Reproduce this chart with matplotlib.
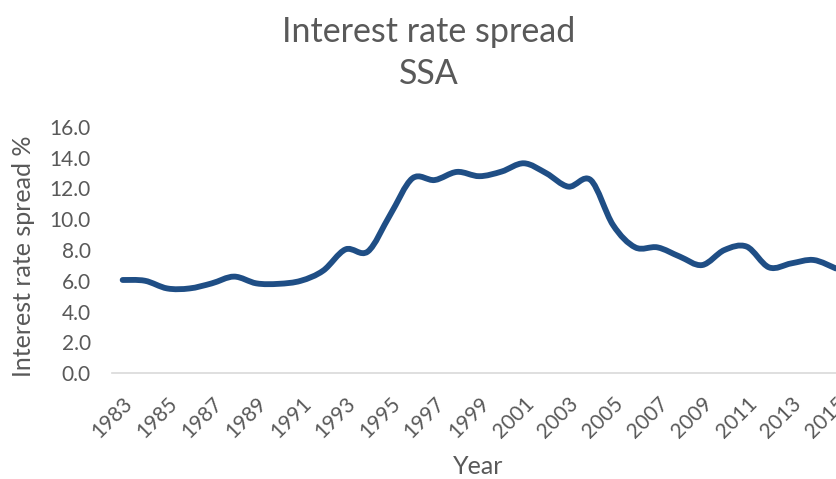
import numpy as np
import matplotlib.pyplot as plt
from matplotlib.path import Path
from matplotlib.patches import PathPatch
from matplotlib.transforms import ScaledTranslation

plt.rcParams['font.family'] = ['Lato', 'DejaVu Sans']

# interest rate spread, Sub-Saharan Africa (%)
years = list(range(1983, 2016))
spread = [6.05, 6.0, 5.5, 5.5, 5.83, 6.27, 5.83, 5.8, 6.0, 6.66,
          8.04, 7.9, 10.28, 12.66, 12.55, 13.08, 12.8, 13.1, 13.64, 13.0,
          12.12, 12.55, 9.63, 8.17, 8.17, 7.57, 7.02, 8.0, 8.22, 6.87,
          7.13, 7.35, 6.8]
year_labels = [str(y) for y in years[::2]]

text_col = '#595959'
line_col = '#1f4e85'


# smoothed line the way the spreadsheet draws it: cubic beziers through every point
def smooth_path(x, y):
    x = np.asarray(x, float)
    y = np.asarray(y, float)
    n = len(x)
    verts = [(x[0], y[0])]
    codes = [Path.MOVETO]
    for i in range(n - 1):
        i0 = max(i - 1, 0)
        i3 = min(i + 2, n - 1)
        c1 = (x[i] + (x[i + 1] - x[i0]) / 6, y[i] + (y[i + 1] - y[i0]) / 6)
        c2 = (x[i + 1] - (x[i3] - x[i]) / 6, y[i + 1] - (y[i3] - y[i]) / 6)
        verts += [c1, c2, (x[i + 1], y[i + 1])]
        codes += [Path.CURVE4] * 3
    return Path(verts, codes)


fig = plt.figure(figsize=(8.37, 4.79), dpi=100)
W, H = 837, 479
x0, x1 = 111.5, 847
y0, y1 = 373, 127
ax = fig.add_axes([x0 / W, (H - y0) / H, (x1 - x0) / W, (y0 - y1) / H])

patch = PathPatch(smooth_path(years, spread), facecolor='none', edgecolor=line_col,
                  lw=4.2, capstyle='round', joinstyle='round')
ax.add_patch(patch)

ax.set_xlim(years[0] - 0.5, years[-1] + 0.5)
ax.set_ylim(0, 16)
ax.set_yticks(np.arange(0, 16.1, 2))
ax.set_yticklabels(['%.1f' % v for v in np.arange(0, 16.1, 2)])
ax.set_xticks(years[::2])
ax.set_xticklabels(year_labels, rotation=45, ha='right', va='top',
                   rotation_mode='anchor')
shift = ScaledTranslation(4 / 72, 0, fig.dpi_scale_trans)
for lbl in ax.get_xticklabels():
    lbl.set_transform(lbl.get_transform() + shift)

for s in ['top', 'right', 'left']:
    ax.spines[s].set_visible(False)
ax.spines['bottom'].set_color('#d9d9d9')
ax.spines['bottom'].set_linewidth(1.2)
ax.tick_params(length=0, labelsize=15, colors=text_col)
ax.tick_params(axis='y', pad=15)
ax.tick_params(axis='x', pad=15)

fig.text(24 / W, 1 - 256 / H, 'Interest rate spread %', fontsize=18, color=text_col,
         ha='center', va='center', rotation=90)
fig.text(478 / W, 1 - 466 / H, 'Year', fontsize=18, color=text_col,
         ha='center', va='center')
fig.text(429 / W, 1 - 53 / H, 'Interest rate spread\nSSA', fontsize=24.5,
         color=text_col, ha='center', va='center', linespacing=1.36)

fig.savefig('out.png', dpi=100)
